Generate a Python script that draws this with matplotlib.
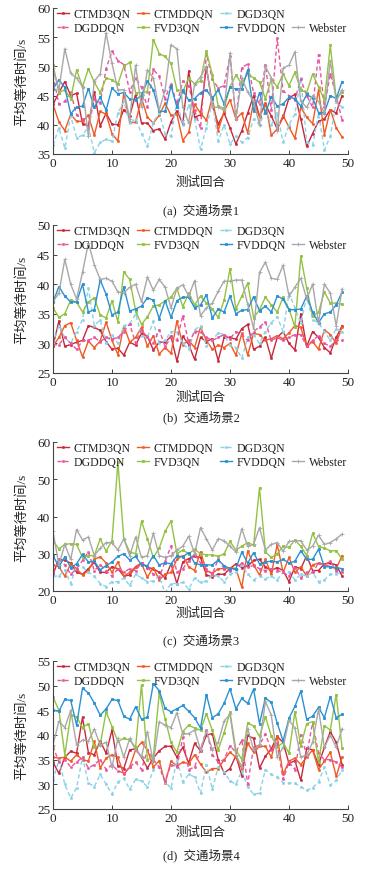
import matplotlib
matplotlib.use('Agg')
import matplotlib.pyplot as plt
from matplotlib.lines import Line2D

plt.rcParams['font.family'] = ['Liberation Serif', 'Noto Sans CJK SC', 'DejaVu Sans']
plt.rcParams['axes.unicode_minus'] = False

rounds = list(range(50))
names = ['CTMD3QN', 'CTMDDQN', 'DGD3QN', 'DGDDQN', 'FVD3QN', 'FVDDQN', 'Webster']

# scene 1
s1_ctmd3qn = [43.5, 45.5, 47.4, 45, 45.4, 40.2, 39.8, 45.7, 39.8, 42, 40.1, 40, 42.6, 41.5, 45.2, 40.3, 40.3, 39, 39.3, 37.5,
              40.5, 42.4, 40.2, 49.2, 41.3, 41.7, 49.9, 43.5, 40.1, 42, 39.5, 36.7, 39, 42, 45, 41.5, 43.5, 41.5, 39.3, 41.3,
              44.6, 45.2, 41, 36.3, 38.5, 40.6, 41, 42.6, 42, 45]
s1_ctmddqn = [43.5, 40.5, 39, 41.8, 40.6, 40.6, 41.6, 38.2, 42.3, 41.8, 38.5, 37.2, 45.5, 40.4, 40.4, 44.6, 41.3, 40.3, 41.6, 43.7,
              41.6, 41.8, 37.3, 38.7, 43.5, 42, 40.8, 44.7, 39, 42.3, 44.3, 41, 42, 38.6, 44, 41.3, 43.8, 38.2, 39.3, 41.6,
              39.6, 37.7, 43, 41.3, 40.2, 46, 38.3, 42.6, 39.5, 37.9]
s1_dgd3qn = [36.5, 39.5, 36, 41.5, 37.8, 38.2, 39.7, 35.2, 37, 37.5, 37.2, 42, 44, 40.3, 41, 38.5, 36.3, 40.5, 42, 38.5,
             38, 44, 40, 43.4, 41, 35.8, 39.5, 44, 37.2, 40, 36.7, 38, 37, 37.8, 41, 40, 42.5, 40, 42, 37,
             40, 41.8, 48, 37, 36.5, 42, 35.7, 38, 44, 43]
s1_dgddqn = [48.5, 43.5, 44, 45.6, 41.7, 41, 39.4, 44.5, 43.7, 49.6, 52.6, 51, 50.3, 45.7, 48, 46.4, 43, 49.5, 48.3, 44.5,
             47, 43.5, 47.5, 46.7, 42.5, 39.4, 52.2, 47.8, 46.3, 46.7, 51.8, 41, 49.8, 50.4, 45.5, 43.5, 50.3, 42.5, 54.8, 45.8,
             45, 44.3, 47.8, 45, 43, 52, 43, 48.7, 45, 40.8]
s1_fvd3qn = [50.3, 45.5, 46, 44.5, 49.4, 46.5, 49.6, 47.3, 45.5, 48, 47.7, 47, 50, 50.7, 45.5, 45.5, 45.7, 54.6, 52.2, 51.7,
             50.5, 46, 45.7, 48, 47, 47.5, 52.6, 48.6, 43.2, 42.8, 46.5, 48.5, 47, 48.8, 48, 47.3, 44.5, 47.8, 46.5, 48.7,
             46.7, 49, 46, 45.5, 48.7, 46.5, 44.2, 53.6, 44.5, 45.6]
s1_fvddqn = [46.2, 47.7, 46.4, 41.9, 43, 43.2, 46.2, 43, 44.7, 42.5, 46.3, 45.3, 45.5, 44.4, 44.3, 45, 47.5, 46, 42.3, 42.3,
             46.7, 43, 45.9, 44.2, 44.5, 45.5, 46, 44.5, 46, 43.6, 46.4, 46.1, 46.2, 49.4, 42.3, 45.5, 42, 44.8, 43.2, 43.6,
             44.7, 44.5, 43.2, 45.2, 44.6, 42.1, 42.1, 45, 44.5, 47.4]
s1_webster = [49.8, 46, 53, 48.8, 48, 46.5, 38, 47.5, 48.7, 55.7, 50.5, 46, 46, 41, 50.2, 43, 49.4, 48, 42.5, 46,
              53.7, 53, 43, 40.3, 47, 48.2, 50, 43, 43, 42.5, 52.3, 41, 48, 45.6, 44, 40, 50, 48, 39, 49.7,
              50.2, 52.5, 44, 43, 45, 44, 42, 51, 44, 46]

# scene 2
s2_ctmd3qn = [29.5, 33.8, 29.5, 29.8, 30.2, 30.5, 33, 32.7, 32.2, 30.3, 29, 29.2, 28, 30.2, 29.7, 31.7, 31.2, 28.9, 30.2, 30.2,
              31.2, 27, 31.2, 29.8, 27.3, 31, 30.3, 30.8, 27.1, 31, 31, 30.7, 32.5, 33.2, 29, 29.5, 31, 27.5, 31, 32,
              30, 28.9, 35, 29.5, 32, 31, 29.3, 28.4, 31, 33]
s2_ctmddqn = [29.5, 31, 33, 33.5, 30.5, 27.7, 30.4, 29.3, 30.4, 33.6, 30.5, 28.1, 33, 30.2, 31, 32.7, 29.5, 31.3, 28.2, 29.3,
              28.3, 33.8, 29.8, 30.5, 29.3, 32.7, 30.5, 29, 29.7, 29.3, 30, 28, 31.7, 28, 31.7, 31.5, 30.5, 30.8, 31.3, 30.8,
              31.8, 33, 32.7, 29.5, 30.3, 29, 32.3, 31.5, 30, 32.8]
s2_dgd3qn = [30, 33, 31, 30, 32, 34, 39.3, 33, 34, 30, 31.5, 30, 33, 33.3, 35, 31.3, 31, 33.7, 30, 30.5,
             32, 32, 30, 29, 32.3, 33, 29.5, 30.5, 31.8, 31.5, 29.7, 29.3, 27.5, 31, 31.5, 30, 32, 33.5, 34.5, 32,
             38.5, 36, 33.5, 37.8, 34, 33.5, 32, 30.5, 32.5, 32]
s2_dgddqn = [29.7, 29.8, 31, 30, 29, 30.5, 30.5, 31, 30.3, 31, 30.7, 31, 32, 33.3, 30, 32.3, 31, 30, 32.3, 29.5,
             31, 30.5, 34.7, 30, 32, 32, 31, 30.5, 31, 31.5, 30.8, 32, 31.5, 30.5, 32, 32.8, 33.6, 30.5, 31, 30.5,
             31, 31.5, 31.5, 29.5, 30.5, 31.3, 30, 29.5, 30.5, 30.5]
s2_fvd3qn = [36, 34.4, 35, 37.3, 37, 35.3, 37, 37.7, 34.8, 34.3, 37.2, 33.6, 42.1, 40.8, 35.5, 33.2, 34.5, 36.3, 36.5, 37.2,
             37.8, 39.3, 36.2, 38.5, 36.5, 38, 36.8, 35.8, 34.4, 37.3, 42.6, 35.8, 38, 40.2, 34.3, 35.7, 37.8, 36.5, 35.3, 37.8,
             35.8, 32.8, 44.7, 39.3, 34.6, 35.3, 38.7, 36.8, 36.8, 36.6]
s2_fvddqn = [37, 39.6, 38, 37, 37, 40, 35.3, 35.7, 40.7, 38.3, 34.8, 35.3, 39.5, 35.5, 35.8, 36.3, 37.7, 37.3, 34.2, 37.2,
             34.4, 37.2, 37.8, 37.8, 36, 36.5, 38.2, 34.3, 35.8, 35.3, 38, 35, 35.6, 35.7, 37.9, 35.5, 36.3, 35.3, 38, 37.5,
             35.7, 35.7, 35.8, 38, 35.3, 33.5, 35, 35.3, 36.5, 38.7]
s2_webster = [37, 38.5, 44.2, 40, 37.5, 42, 47, 43.3, 40.8, 41, 40.5, 38.7, 38.5, 39.5, 40, 37, 41.2, 39, 40.8, 39.5,
              36, 39.3, 39.9, 38, 40.6, 34.7, 36, 36.8, 38.8, 40.5, 40.5, 40.7, 40.7, 36.6, 32.5, 42, 43.7, 41, 40.8, 43.2,
              38, 39.5, 41, 37.5, 40, 33.5, 40, 38.5, 33, 39.2]

# scene 3
s3_ctmd3qn = [24.5, 28.5, 28.2, 27.5, 25, 24.5, 26, 27.7, 25, 25, 26.5, 26, 24, 24.3, 26.5, 27.5, 26.3, 26, 25, 23.5,
              27.3, 22, 27.8, 28.7, 29.3, 29, 24.3, 23.8, 24.5, 24.5, 26, 27.3, 26.3, 26.7, 28.2, 28.5, 26.5, 25.5, 26.3, 25.5,
              22.5, 26.5, 26, 29.5, 25.5, 25.5, 27.3, 27.5, 27, 24]
s3_ctmddqn = [27, 26.5, 24, 27.3, 26, 24.3, 25.5, 28.5, 29.2, 27.5, 25, 27.8, 24, 25, 26.5, 27.3, 23.7, 26.3, 23, 24.5,
              25, 28.5, 29.5, 26.5, 25.5, 30.5, 25.5, 24.7, 26, 26, 26.3, 26, 21, 30.8, 27, 24.3, 28.5, 24.5, 32.5, 25,
              29, 25, 26.5, 24, 27, 27.5, 27.2, 26.5, 26, 29.5]
s3_dgd3qn = [24, 24, 25.7, 22, 27, 26.5, 25, 24, 22, 21.2, 22.5, 22.5, 23.5, 21.5, 24.5, 23.5, 22.5, 22.7, 24, 19.5,
             22, 22, 22.3, 20.5, 23.5, 22.3, 22.7, 24.3, 24, 22.5, 24.5, 25, 27, 24.5, 23, 24, 23.3, 24, 23, 25,
             25, 23, 24.5, 24, 25, 22.5, 23, 24.5, 24.5, 25]
s3_dgddqn = [25, 28.5, 27, 24.5, 26, 28.2, 30.5, 25.5, 27, 25.5, 24, 26, 25, 26, 25.5, 27.5, 26.5, 24.5, 23.5, 28,
             32, 25, 26, 28, 30, 27.5, 26, 24.5, 28.5, 26, 25.3, 26, 27.5, 26.5, 26.8, 26, 25.5, 26, 25.5, 25,
             24, 26.3, 23.5, 25, 25, 27.5, 27, 28, 25.5, 25]
s3_fvd3qn = [33.5, 31.3, 32.5, 32.7, 32.5, 29, 29.5, 29.5, 34, 30.7, 33.5, 54.5, 34, 30.5, 30, 38.7, 34, 29, 31.5, 36,
             38.8, 30, 31, 30, 31.2, 30, 29.7, 29.7, 29.3, 30, 33.3, 31, 32, 33, 32.3, 47.7, 30.5, 29, 30, 32,
             31.7, 33.7, 32, 29.5, 35.5, 32, 31.5, 30.8, 30.8, 28.5]
s3_fvddqn = [29.5, 26.5, 29.2, 26.3, 27.3, 29.8, 27.8, 28, 25.7, 26.8, 27.8, 29.3, 30, 28.3, 29.3, 27, 26.8, 29.5, 27, 27.6,
             27.3, 29.4, 29.2, 30.3, 27.5, 27, 27, 27, 28.3, 26.8, 26, 26, 30.5, 27.5, 30.3, 27.3, 27.8, 28, 27.8, 28.5,
             27.5, 28, 30.8, 28.5, 28.5, 31.2, 26.5, 26.5, 26.3, 26]
s3_webster = [36, 27, 32.5, 28.5, 36.5, 33.7, 34.5, 29.5, 31.5, 33, 33, 31, 34, 29.5, 34.5, 29, 29.5, 35.5, 29.5, 29,
              29.5, 31, 32, 34.7, 30, 37, 34, 31, 34, 33.5, 32, 30.5, 36.7, 32, 32.5, 37, 31, 32.5, 33, 30.7,
              33.3, 33.5, 33.5, 31, 32, 35, 32.5, 33, 34, 35.3]

# scene 4
s4_ctmd3qn = [34.5, 32.2, 35.5, 36.7, 36.3, 43.6, 36.4, 36, 38.8, 36.3, 41, 33.8, 33.2, 37, 37.2, 35.5, 33.3, 35.3, 36.8, 37.7,
              37.7, 35.5, 37.5, 34.3, 38.3, 36.8, 40, 40.3, 35, 32.3, 33.2, 35.8, 31.7, 39.9, 39.3, 33.3, 35.7, 37.2, 39.7, 38.5,
              34.2, 34.8, 30.8, 37.3, 37, 34, 37.5, 40.7, 38.5, 34]
s4_ctmddqn = [35.5, 35.3, 35.5, 34.7, 36, 35, 34.7, 38.7, 33.3, 35.3, 36, 35.5, 32, 33.5, 37, 38.5, 37, 33.5, 34.8, 30.2,
              34.7, 33.7, 34.5, 34.2, 36, 34.1, 32.4, 33.2, 33.2, 35, 36.5, 35.5, 33.2, 38.3, 36.5, 37.7, 37.7, 35.5, 39.8, 32,
              34.7, 35.3, 34, 35.5, 37, 33, 34.7, 36.5, 31.6, 35.5]
s4_dgd3qn = [30.8, 35, 30, 27.2, 29.3, 35.5, 30.3, 29.5, 32, 30, 28, 30.5, 31.2, 29, 31, 30.7, 29.5, 33, 33.5, 30.5,
             29.2, 35, 30.5, 32, 31.5, 28.2, 34, 29, 33.5, 32.5, 30.7, 30, 32.7, 29.5, 28, 28.2, 33, 32, 31.5, 30.3,
             30.3, 30.2, 29.5, 28.8, 29.3, 30.5, 33.5, 29.8, 30.8, 33]
s4_dgddqn = [37.7, 34.5, 35, 33.5, 34.5, 35.5, 33.3, 34, 35, 33, 34, 32.7, 32.3, 33.5, 34.5, 33, 37, 35, 33.5, 30.7,
             34, 33.5, 39.5, 33, 33.5, 37, 41, 36, 34.5, 35, 37.8, 36.5, 39, 30, 37.5, 38, 40.2, 37, 38.3, 31,
             34.5, 33, 40, 36, 42.5, 36.3, 35, 35, 34.5, 33.5]
s4_fvd3qn = [47.7, 45, 36, 44, 43.7, 41.5, 42.3, 37.5, 38, 44.7, 41.7, 38.7, 39.3, 39, 37.5, 50.2, 35, 35.5, 48.5, 43.3,
             38.5, 36.5, 40.7, 42, 41.4, 41, 44.3, 41, 37, 40.5, 44.6, 37, 35, 42.5, 41.8, 39.7, 43.7, 39.8, 37.5, 38.5,
             36.3, 44.7, 37.8, 42.3, 42.7, 34.5, 41.9, 41, 48.2, 37.3]
s4_fvddqn = [45, 44.8, 47.2, 47, 42, 49.5, 48.5, 46.5, 44, 45.3, 47.2, 47, 43.8, 43.2, 45.7, 43.2, 43.6, 50.4, 49, 45.4,
             44.7, 45.3, 46, 44.8, 43.5, 41.4, 48.2, 43.5, 44.3, 46.4, 49.4, 45.3, 47.4, 46.4, 49.3, 42.3, 47.5, 46.6, 42.4, 38.8,
             43.4, 45.8, 48.9, 43.2, 43.8, 45.6, 43.5, 47.8, 43.5, 44.2]
s4_webster = [38, 42.8, 41.5, 45, 38, 39, 38.8, 41.2, 38, 38.5, 33.5, 39.3, 35.5, 39.3, 37, 35.6, 40.7, 34.5, 42.7, 42,
              41.5, 44.5, 40.2, 40.3, 41, 37, 40.8, 37, 38.5, 42.8, 44.2, 36, 33.5, 41.3, 37, 38, 46.8, 44, 35.5, 37.5,
              43, 41.4, 35.5, 36, 38.5, 45.2, 37.5, 40, 37.5, 41.3]

scenes = [
    [s1_ctmd3qn, s1_ctmddqn, s1_dgd3qn, s1_dgddqn, s1_fvd3qn, s1_fvddqn, s1_webster],
    [s2_ctmd3qn, s2_ctmddqn, s2_dgd3qn, s2_dgddqn, s2_fvd3qn, s2_fvddqn, s2_webster],
    [s3_ctmd3qn, s3_ctmddqn, s3_dgd3qn, s3_dgddqn, s3_fvd3qn, s3_fvddqn, s3_webster],
    [s4_ctmd3qn, s4_ctmddqn, s4_dgd3qn, s4_dgddqn, s4_fvd3qn, s4_fvddqn, s4_webster],
]
ylims = [(35, 60), (25, 50), (20, 60), (25, 55)]
yticks = [range(35, 61, 5), range(25, 51, 5), range(20, 61, 10), range(25, 56, 5)]
captions = ['(a)  交通场景1', '(b)  交通场景2', '(c)  交通场景3', '(d)  交通场景4']

colors = ['#c8283c', '#f25a24', '#8ad2ea', '#e8549e', '#94c244', '#2a92d2', '#a8a8a8']
styles = ['-', '-', (0, (3, 2)), (0, (3, 2)), '-', '-', '-']
markers = ['s', 's', 's', 's', 's', 's', '+']
msizes = [1.2, 1.2, 1.2, 1.2, 1.9, 1.9, 2.5]

# pixel layout: axes top, axes bottom, x label y, caption y
boxes = [(9, 155, 183, 210), (226, 374, 398, 417), (443, 592, 614, 640), (662, 810, 833, 855)]
W, H = 368, 870
L, R = 53, 348

fig = plt.figure(figsize=(W / 100, H / 100), dpi=100)
txt = '#222222'

for i, (top, bot, xl, cap) in enumerate(boxes):
    ax = fig.add_axes([L / W, 1 - bot / H, (R - L) / W, (bot - top) / H])
    lines = []
    for k in range(7):
        ln, = ax.plot(rounds, scenes[i][k], color=colors[k], ls=styles[k], lw=1.0,
                      marker=markers[k], ms=msizes[k], mew=0.6, label=names[k])
        lines.append(ln)
    ax.set_xlim(0, 50)
    ax.set_ylim(*ylims[i])
    ax.set_xticks(range(0, 51, 10))
    ax.set_yticks(list(yticks[i]))
    ax.spines['top'].set_visible(False)
    ax.spines['right'].set_visible(False)
    for s in ['left', 'bottom']:
        ax.spines[s].set_color('#444444')
        ax.spines[s].set_linewidth(0.8)
    ax.tick_params(direction='in', length=3, width=0.7, labelsize=9.5, colors='#444444', labelcolor=txt, pad=2)

    fig.text((L + R) / 2 / W, 1 - xl / H, '测试回合', ha='center', va='center', fontsize=9, color=txt)
    fig.text(22 / W, 1 - (top + bot) / 2 / H, '平均等待时间/s', rotation=90, ha='center', va='center',
             fontsize=9.5, color=txt)
    fig.text(201 / W, 1 - cap / H, captions[i], ha='center', va='center', fontsize=9, color=txt)

    blank = Line2D([], [], color='none')
    order = [lines[0], lines[3], lines[1], lines[4], lines[2], lines[5], blank, lines[6]]
    labels = ['CTMD3QN', 'DGDDQN', 'CTMDDQN', 'FVD3QN', 'DGD3QN', 'FVDDQN', '', 'Webster']
    leg = ax.legend(order, labels, ncol=4, loc='upper left', bbox_to_anchor=(4 / (R - L), 1.0),
                    frameon=False, fontsize=8.5, handlelength=1.0, handletextpad=0.4,
                    columnspacing=0.55, labelspacing=0.2, borderaxespad=0, borderpad=0)
    for t in leg.get_texts():
        t.set_color(txt)

fig.savefig('out.png', dpi=100, facecolor='white')
